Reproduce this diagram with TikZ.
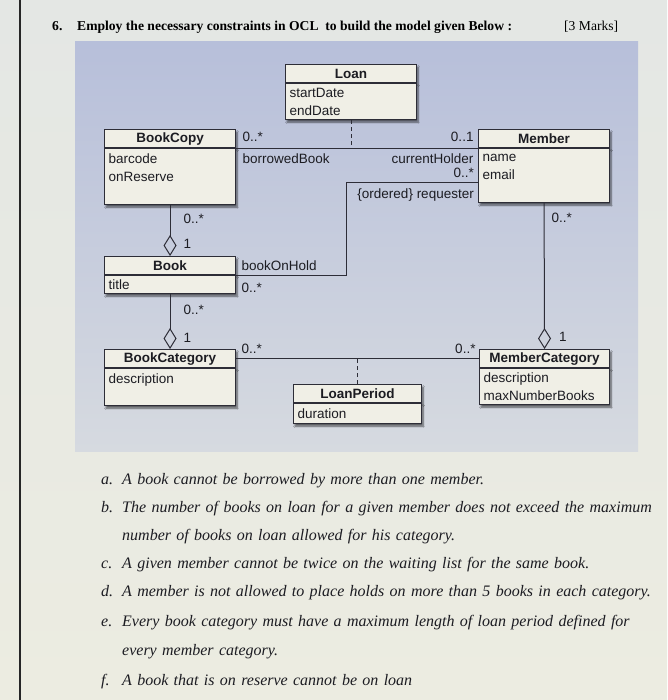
\documentclass[tikz,border=0pt]{standalone}
\usepackage{fontspec}
\setmainfont{Liberation Serif}
\setsansfont{Liberation Sans}
\usetikzlibrary{positioning,arrows.meta,shadows.blur}
\definecolor{pagetop}{RGB}{228,231,228}
\definecolor{pagebot}{RGB}{236,236,225}
\definecolor{paneltop}{RGB}{183,191,218}
\definecolor{panelbot}{RGB}{214,218,224}
\definecolor{boxc}{RGB}{240,239,230}
\definecolor{linec}{RGB}{45,45,55}
\definecolor{inkc}{RGB}{28,28,34}
\begin{document}
\begin{tikzpicture}[x=1pt,y=-1pt,
  shd/.style={blur shadow={shadow xshift=1.5pt,shadow yshift=-2.5pt,shadow blur steps=6,shadow opacity=60}},
  cls/.style={draw=linec,fill=boxc,line width=1.1pt,inner sep=0pt,anchor=north west,
    minimum width=131pt,minimum height=18pt,text=inkc,shd,
    font=\sffamily\bfseries\fontsize{13.5}{18}\selectfont},
  attr/.style={draw=linec,fill=boxc,line width=1.1pt,inner xsep=4pt,inner ysep=0pt,anchor=north,
    text width=123pt,align=left,text=inkc,shd,font=\sffamily\fontsize{13.5}{18}\selectfont},
  mult/.style={inner sep=0pt,text=inkc,font=\sffamily\fontsize{13.5}{16}\selectfont},
  conn/.style={draw=linec,line width=1pt},
  agg/.style={conn,-{Diamond[open,length=21pt,width=13pt]}},
  dsh/.style={conn,dash pattern=on 4pt off 3pt},
  itm/.style={inner sep=0pt,anchor=base west,text=inkc,font=\itshape\fontsize{16}{28}\selectfont}]
\useasboundingbox (0,0) rectangle (667,700);
\shade[top color=pagetop,bottom color=pagebot] (0,0) rectangle (667,700);
\draw[line width=2pt,black!85] (20,0) -- (20,700);
\shade[top color=paneltop,bottom color=panelbot] (75,42) rectangle (638,451);

\node[inner sep=0pt,anchor=base west,font=\bfseries\fontsize{13.6}{16}\selectfont] (qn) at (52,31) {6.};
\node[inner sep=0pt,anchor=base west,font=\bfseries\fontsize{13.6}{16}\selectfont] (qt) at (77,31) {Employ the necessary constraints in OCL\ \ to build the model given Below :};
\node[inner sep=0pt,anchor=base west,font=\fontsize{13.6}{16}\selectfont] (qm) at (564,31) {[3 Marks]};

\node[cls] (loan) at (285,64) {Loan};
\node[attr,minimum height=36pt] (loanA) at (loan.south) {startDate\\endDate};
\node[cls] (copy) at (104,129) {BookCopy};
\node[attr,minimum height=56pt] (copyA) at (copy.south) {barcode\\onReserve\\~};
\node[cls] (mem) at (478,129) {Member};
\node[attr,minimum height=54pt] (memA) at (mem.south) {name\\email\\~};
\node[cls] (book) at (104,256) {Book};
\node[attr,minimum height=18pt] (bookA) at (book.south) {title};
\node[cls] (bcat) at (104,349) {BookCategory};
\node[attr,minimum height=37pt] (bcatA) at (bcat.south) {description\\~};
\node[cls,minimum width=128pt] (lp) at (293,384) {LoanPeriod};
\node[attr,text width=120pt,minimum height=20pt] (lpA) at (lp.south) {duration};
\node[cls,minimum width=130pt] (mcat) at (479,349) {MemberCategory};
\node[attr,text width=122pt,minimum height=36pt] (mcatA) at (mcat.south) {description\\maxNumberBooks};

\coordinate (hold) at (346,183);
\draw[conn] (copy.south east) -- (mem.south west)
  node[mult,at start,anchor=south west,xshift=6pt,yshift=6pt] (m1) {0..*}
  node[mult,at start,anchor=north west,xshift=6pt,yshift=-5pt] (m2) {borrowedBook}
  node[mult,at end,anchor=south east,xshift=-4pt,yshift=6pt] (m3) {0..1}
  node[mult,at end,anchor=north east,xshift=-4pt,yshift=-5pt] (m4) {currentHolder};
\draw[dsh] (loanA.south) -- (loanA.south |- copy.south east);
\draw[conn] (memA.west |- hold) -- (hold) |- (book.south east)
  node[mult,at end,anchor=south west,xshift=5pt,yshift=4pt] (m7) {bookOnHold}
  node[mult,at end,anchor=north west,xshift=5pt,yshift=-7pt] (m8) {0..*};
\node[mult,anchor=south east,xshift=-4pt,yshift=5pt] (m5) at (memA.west |- hold) {0..*};
\node[mult,anchor=north east,xshift=-4pt,yshift=-6pt] (m6) at (memA.west |- hold) {\{ordered\} requester};
\draw[agg] (copyA.south) -- (book.north)
  node[mult,at start,anchor=north west,xshift=13pt,yshift=-8pt] (m9) {0..*}
  node[mult,at end,anchor=west,xshift=13pt,yshift=12pt] (m10) {1};
\draw[agg] (bookA.south) -- (bcat.north)
  node[mult,at start,anchor=north west,xshift=13pt,yshift=-10pt] (m11) {0..*}
  node[mult,at end,anchor=west,xshift=13pt,yshift=11pt] (m12) {1};
\draw[agg] (memA.south) -- (mcat.north)
  node[mult,at start,anchor=north west,xshift=7pt,yshift=-9pt] (m13) {0..*}
  node[mult,at end,anchor=west,xshift=14pt,yshift=12pt] (m14) {1};
\draw[conn] (bcat.east) -- (mcat.west)
  node[mult,at start,anchor=south west,xshift=5pt,yshift=4pt] (m15) {0..*}
  node[mult,at end,anchor=south east,xshift=-3pt,yshift=4pt] (m16) {0..*};
\draw[dsh] (lp.north) -- (lp.north |- bcat.east);

\node[itm] (la) at (101,484) {a.};
\node[itm,text width=545pt] (ta) at (122,484) {A book cannot be borrowed by more than one member.};
\node[itm] (lb) at (101,512) {b.};
\node[itm,text width=545pt] (tb) at (122,512) {The number of books on loan for a given member does not exceed the maximum\\number of books on loan allowed for his category.};
\node[itm] (lc) at (101,568) {c.};
\node[itm,text width=545pt] (tc) at (122,568) {A given member cannot be twice on the waiting list for the same book.};
\node[itm] (ld) at (101,596) {d.};
\node[itm,text width=545pt] (td) at (122,596) {A member is not allowed to place holds on more than 5 books in each category.};
\node[itm] (le) at (101,626) {e.};
\node[itm,text width=545pt] (te) at (122,626) {Every book category must have a maximum length of loan period defined for\\[1pt]every member category.};
\node[itm] (lf) at (101,685) {f.};
\node[itm,text width=545pt] (tf) at (122,685) {A book that is on reserve cannot be on loan};
\end{tikzpicture}
\end{document}
